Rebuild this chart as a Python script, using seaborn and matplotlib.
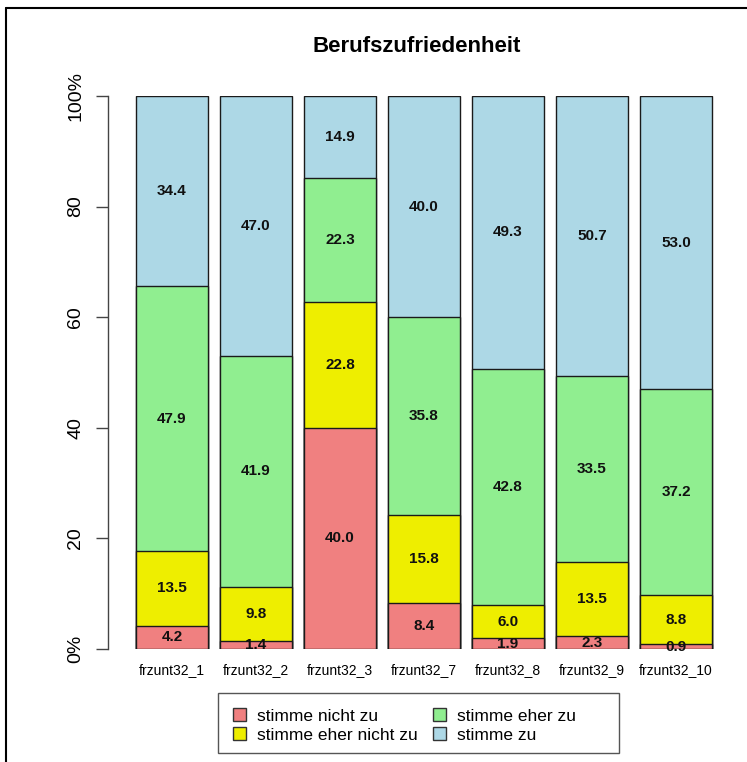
import matplotlib
matplotlib.use("Agg")
import matplotlib.pyplot as plt
from matplotlib.lines import Line2D
from matplotlib.patches import Patch, Rectangle
import numpy as np
import pandas as pd
import seaborn as sns

categories = ["frzunt32_1", "frzunt32_2", "frzunt32_3", "frzunt32_7",
              "frzunt32_8", "frzunt32_9", "frzunt32_10"]
series_names = ["stimme nicht zu", "stimme eher nicht zu", "stimme eher zu", "stimme zu"]
nicht_zu = [4.2, 1.4, 40.0, 8.4, 1.9, 2.3, 0.9]
eher_nicht_zu = [13.5, 9.8, 22.8, 15.8, 6.0, 13.5, 8.8]
eher_zu = [47.9, 41.9, 22.3, 35.8, 42.8, 33.5, 37.2]
zu = [34.4, 47.0, 14.9, 40.0, 49.3, 50.7, 53.0]
colors = ["#F08080", "#EEEE00", "#90EE90", "#ADD8E6"]
ytick_vals = [0, 20, 40, 60, 80, 100]
ytick_labels = ["0%", "20", "40", "60", "80", "100%"]

sns.set_style("white")
plt.rcParams["font.family"] = ["Liberation Sans", "DejaVu Sans"]
plt.rcParams["text.color"] = "black"
plt.rcParams["xtick.color"] = "black"
plt.rcParams["ytick.color"] = "black"

W, H = 747, 762
fig = plt.figure(figsize=(W / 100, H / 100), dpi=100)
ax = fig.add_axes([108 / W, (H - 649) / H, (737 - 108) / W, (649 - 96) / H])

layers = [nicht_zu, eher_nicht_zu, eher_zu, zu]
arr = np.array(layers)
# proportions (labels are rounded; stack each bar to 100 %)
prop = arr / arr.sum(axis=0) * 100
cum = np.cumsum(prop, axis=0)

# draw from top layer (full cumulative) down
for i in range(len(layers) - 1, -1, -1):
    df = pd.DataFrame({"cat": categories, "val": cum[i]})
    sns.barplot(data=df, x="cat", y="val", order=categories, color=colors[i],
                saturation=1, width=72 / 84, edgecolor="#1a1a1a", linewidth=1.0,
                ax=ax, errorbar=None)

# labels
for i in range(len(layers)):
    bottoms = cum[i] - prop[i]
    for j in range(len(categories)):
        v = arr[i][j]
        if v <= 0:
            continue
        ax.text(j, bottoms[j] + prop[i][j] / 2, f"{v:.1f}", ha="center", va="center",
                fontsize=11, fontweight="bold", color="#111111")

ax.set_xlim(-(172 - 108) / 84, (737 - 172) / 84)
ax.set_ylim(0, 100)
for s in ["top", "right", "bottom"]:
    ax.spines[s].set_visible(False)
ax.spines["left"].set_color("#444444")
ax.spines["left"].set_linewidth(1.0)
ax.set_yticks(ytick_vals)
ax.set_yticklabels(ytick_labels, rotation=90, va="center", fontsize=14)
ax.tick_params(axis="y", length=9, width=1.0, color="#444444", pad=8, left=True)
ax.tick_params(axis="x", length=0, pad=10, labelsize=10)
ax.set_xlabel("")
ax.set_ylabel("")

fig.text(417 / W, 1 - 46 / H, "Berufszufriedenheit", ha="center", va="center",
         fontsize=16, fontweight="bold")

# legend box (R-style, asymmetric padding)
fig.add_artist(Rectangle((218 / W, 1 - 753 / H), (619 - 218) / W, (753 - 693) / H,
                         transform=fig.transFigure, facecolor="white",
                         edgecolor="#555555", linewidth=1.0, zorder=1))

handles = [Patch(facecolor=c, edgecolor="#333333", linewidth=1.0) for c in colors]
leg = fig.legend(handles, series_names, ncol=2, loc="center left",
                 bbox_to_anchor=(233 / W, 1 - 725.5 / H), fontsize=12.5,
                 frameon=False, handlelength=0.75, handleheight=0.75,
                 handletextpad=0.63, columnspacing=0.9, labelspacing=0.2,
                 borderpad=0, borderaxespad=0)
leg.set_zorder(2)

# outer frame (cropped screenshot border)
fig.add_artist(Line2D([6 / W, 6 / W], [0, 1 - 8 / H], transform=fig.transFigure,
                      color="black", linewidth=1.5))
fig.add_artist(Line2D([6 / W, 1], [1 - 8 / H, 1 - 8 / H], transform=fig.transFigure,
                      color="black", linewidth=1.5))

fig.savefig("out.png", dpi=100)
